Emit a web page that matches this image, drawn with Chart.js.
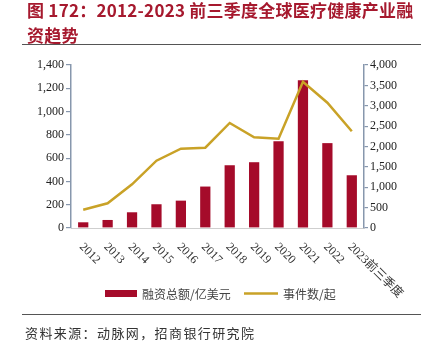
<!DOCTYPE html>
<html>
<head>
<meta charset="utf-8">
<script src="https://cdn.jsdelivr.net/npm/chart.js@4/dist/chart.umd.min.js"></script>
<style>
  html,body{margin:0;padding:0;background:#fff;}
  body{width:429px;height:352px;position:relative;overflow:hidden;}
  #c{position:absolute;left:0;top:0;}
  .title{position:absolute;left:27px;font-family:"Noto Sans CJK SC",sans-serif;font-weight:bold;font-size:17px;letter-spacing:0.25px;color:#a6192e;white-space:nowrap;line-height:20px;}
  .rule{position:absolute;left:22px;width:399px;height:1px;background:#555;}
  .src{position:absolute;left:25px;top:324px;font-family:"Noto Sans CJK SC",sans-serif;font-size:13px;letter-spacing:1.4px;color:#333;white-space:nowrap;line-height:18px;}
</style>
</head>
<body>
<canvas id="c" width="429" height="352"></canvas>
<div class="title" style="top:0px">图 172：2012-2023 前三季度全球医疗健康产业融</div>
<div class="title" style="top:25px">资趋势</div>
<div class="rule" style="top:44px"></div>
<div class="rule" style="top:314px"></div>
<div class="src">资料来源：动脉网，招商银行研究院</div>
<script>
const categories = ["2012","2013","2014","2015","2016","2017","2018","2019","2020","2021","2022","2023前三季度"];
const fundingValues = [49, 69, 135, 204, 235, 356, 539, 565, 746, 1268, 729, 453];
const eventCounts = [449, 606, 1072, 1652, 1946, 1971, 2577, 2226, 2191, 3590, 3075, 2373];
const leftTicks = [0, 200, 400, 600, 800, 1000, 1200, 1400];
const rightTicks = [0, 500, 1000, 1500, 2000, 2500, 3000, 3500, 4000];
const fundingLabel = "融资总额/亿美元";
const eventLabel = "事件数/起";

const BAR = "#a50b2a", LINE = "#c9a227", AXIS = "#8797ad";
const serif = '"Liberation Serif", "Noto Sans CJK SC", serif';

const customLabels = {
  id: 'customLabels',
  afterDraw(chart) {
    const ctx = chart.ctx;
    const xs = chart.scales.x;
    ctx.save();
    ctx.fillStyle = '#333';
    ctx.font = '12px ' + serif;
    ctx.textAlign = 'left';
    ctx.textBaseline = 'middle';
    chart.data.labels.forEach((lab, i) => {
      const x = xs.getPixelForValue(i);
      ctx.save();
      ctx.translate(x - 2, 245);
      ctx.rotate(Math.PI / 4);
      ctx.fillText(lab, 0, 0);
      ctx.restore();
    });
    // legend
    const ds = chart.data.datasets;
    ctx.font = '12px "Noto Sans CJK SC", sans-serif';
    ctx.fillStyle = BAR;
    ctx.fillRect(105, 290, 32, 7);
    ctx.fillStyle = '#444';
    ctx.fillText(ds[0].label, 142, 294);
    ctx.strokeStyle = LINE;
    ctx.lineWidth = 2.5;
    ctx.beginPath();
    ctx.moveTo(244, 293.5);
    ctx.lineTo(278, 293.5);
    ctx.stroke();
    ctx.fillText(ds[1].label, 283, 294);
    ctx.restore();
  }
};

new Chart(document.getElementById('c'), {
  data: {
    labels: categories,
    datasets: [
      { type: 'bar', label: fundingLabel, data: fundingValues, backgroundColor: BAR, yAxisID: 'y', order: 2, barPercentage: 0.42, categoryPercentage: 1 },
      { type: 'line', label: eventLabel, data: eventCounts, borderColor: LINE, borderWidth: 2.5, pointRadius: 0, tension: 0, yAxisID: 'y1', order: 1 }
    ]
  },
  options: {
    responsive: false,
    animation: false,
    layout: { padding: { top: 65, left: 0, right: 0, bottom: 0 } },
    plugins: { legend: { display: false }, tooltip: { enabled: false } },
    scales: {
      x: {
        offset: true,
        grid: { display: false },
        border: { display: true, color: '#cfcfcf', width: 1 },
        ticks: { display: false },
        afterFit(s) { s.height = 352 - 228; }
      },
      y: {
        position: 'left',
        min: 0, max: 1400,
        afterBuildTicks(s) { s.ticks = leftTicks.map(v => ({ value: v })); },
        grid: { display: true, drawOnChartArea: false, drawTicks: true, tickLength: 5, color: AXIS, lineWidth: 1.2 },
        border: { display: true, color: AXIS, width: 1.5 },
        ticks: { color: '#222', font: { family: serif, size: 12 }, padding: 2, callback: v => v.toLocaleString('en-US') },
        afterFit(s) { s.width = 71; }
      },
      y1: {
        position: 'right',
        min: 0, max: 4000,
        afterBuildTicks(s) { s.ticks = rightTicks.map(v => ({ value: v })); },
        grid: { display: true, drawOnChartArea: false, drawTicks: true, tickLength: 4, color: AXIS, lineWidth: 1.2 },
        border: { display: true, color: AXIS, width: 1.5 },
        ticks: { color: '#222', font: { family: serif, size: 12 }, padding: 2, callback: v => v.toLocaleString('en-US') },
        afterFit(s) { s.width = 65; }
      }
    }
  },
  plugins: [customLabels]
});
</script>
</body>
</html>
